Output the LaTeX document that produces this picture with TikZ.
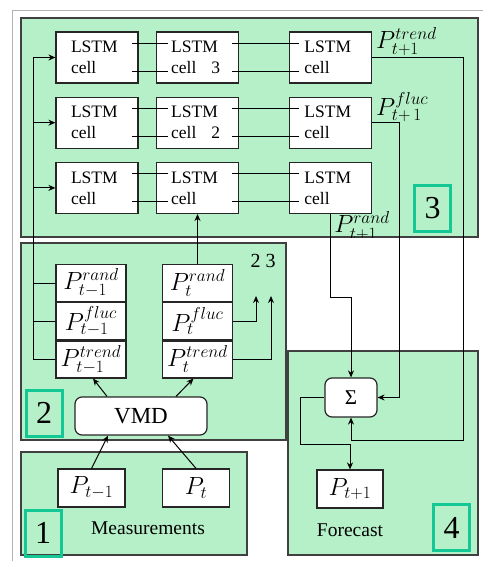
\documentclass[tikz,border=0pt]{standalone}
\usepackage{fontspec}
\setmainfont{Liberation Serif}
\usepackage{xcolor}
\definecolor{PanelGreen}{RGB}{182,240,200}
\definecolor{TagTeal}{RGB}{20,200,150}
\usetikzlibrary{arrows.meta,positioning,calc}

\begin{document}
\begin{tikzpicture}[
    x=1pt,y=-1pt,
    font=\fontsize{17.5}{21}\selectfont,
    panel/.style={draw=black!75,line width=1.2pt,fill=PanelGreen},
    tag/.style={draw=TagTeal,line width=3pt,minimum width=36pt,minimum height=46pt,inner sep=0pt,font=\fontsize{32}{32}\selectfont},
    lstm/.style={draw=black!85,line width=1.2pt,fill=white,minimum width=82pt,minimum height=51pt,inner sep=0pt,text width=52pt,align=left},
    pbox/.style={draw=black!85,line width=1.2pt,fill=white,minimum width=70pt,minimum height=37pt,inner sep=0pt,font=\fontsize{23}{23}\selectfont},
    rbox/.style={draw=black!85,line width=1.2pt,fill=white,rounded corners=7pt,inner sep=0pt},
    arr/.style={-{Stealth[length=7pt,width=6pt]},line width=1pt},
    link/.style={line width=1pt},
    outlbl/.style={inner sep=0pt,font=\fontsize{24}{24}\selectfont},
  ]
    \useasboundingbox (0,0) rectangle (483,561);
    \draw[gray!60,line width=0.8pt] (12,561) -- (12,10) -- (483,10);

    % panels
    \draw[panel] (21,18) rectangle (478,237);
    \begin{scope}
      \clip (21,18) rectangle (478,237);
      \node[outlbl] (oR) at (362,226) {$P^{rand}_{t+1}$};
    \end{scope}
    \draw[panel] (21,243) rectangle (286,440);
    \draw[panel] (21,452) rectangle (247,555);
    \draw[panel] (288,351) rectangle (478,555);

    % LSTM grid
    \node[lstm] (a1) at (97,57.5) {LSTM\\cell};
    \node[lstm,right=17pt of a1] (b1) {LSTM\\cell\hspace{15pt}3};
    \node[lstm,right=50pt of b1] (c1) {LSTM\\cell};
    \node[lstm,below=13pt of a1] (a2) {LSTM\\cell};
    \node[lstm,right=17pt of a2] (b2) {LSTM\\cell\hspace{15pt}2};
    \node[lstm,right=50pt of b2] (c2) {LSTM\\cell};
    \node[lstm,below=13pt of a2] (a3) {LSTM\\cell};
    \node[lstm,right=17pt of a3] (b3) {LSTM\\cell};
    \node[lstm,right=50pt of b3] (c3) {LSTM\\cell};
    \foreach \r in {1,2,3} {
      \draw[link] ([shift={(-7pt,14pt)}]a\r.east) -- ([shift={(12pt,14pt)}]b\r.west);
      \draw[link] ([shift={(-7pt,-14pt)}]a\r.east) -- ([shift={(12pt,-14pt)}]b\r.west);
      \draw[link] ([shift={(-7pt,14pt)}]b\r.east) -- ([shift={(10pt,14pt)}]c\r.west);
      \draw[link] ([shift={(-7pt,-14pt)}]b\r.east) -- ([shift={(10pt,-14pt)}]c\r.west);
    }
    \node[outlbl,anchor=west] (oT) at ([shift={(4pt,-10pt)}]c1.north east) {$P^{trend}_{t+1}$};
    \node[outlbl,anchor=west] (oF) at ([shift={(4pt,-10pt)}]c2.north east) {$P^{fluc}_{t+\,1}$};
    \node[tag] (tag3) at (432.5,208.5) {3};

    % decomposition
    \node[pbox] (pR1) at (91,283) {$P^{rand}_{t-1}$};
    \node[pbox,below=0pt of pR1] (pF1) {$P^{fluc}_{t-1}$};
    \node[pbox,below=0pt of pF1] (pT1) {$P^{trend}_{t-1}$};
    \node[pbox] (pR0) at (197.5,283) {$P^{rand}_{t}$};
    \node[pbox,below=0pt of pR0] (pF0) {$P^{fluc}_{t}$};
    \node[pbox,below=0pt of pF0] (pT0) {$P^{trend}_{t}$};
    \node[font=\fontsize{20}{20}\selectfont] (ids) at (263,261) {2 3};
    \node[rbox,minimum width=132pt,minimum height=38pt,font=\fontsize{23}{23}\selectfont] (vmd) at (141,416) {VMD};
    \node[tag] (tag2) at (44,413) {2};

    \coordinate (bus) at (33,0);
    \coordinate (toRow2) at (256,296);
    \coordinate (toRow3) at (271,296);
    \draw[arr] (pT1.west) -| (bus |- a1.west) -- (a1.west);
    \draw[arr] (pF1.west) -| (bus |- a2.west) -- (a2.west);
    \draw[arr] (pR1.west) -| (bus |- a3.west) -- (a3.west);
    \draw[arr] (pR0.north) -- (pR0.north |- b3.south);
    \draw[arr] (pF0.east) -| (toRow2);
    \draw[arr] (pT0.east) -| (toRow3);
    \draw[arr] ([xshift=-34pt]vmd.north) -- ([xshift=2pt]pT1.south);
    \draw[arr] ([xshift=35pt]vmd.north) -- ([xshift=-4pt]pT0.south);

    % measurements
    \node[pbox,minimum width=67pt,minimum height=38pt] (pPrev) at (91.5,488) {$P_{t-1}$};
    \node[pbox,minimum width=67pt,minimum height=38pt] (pNow) at (196,488) {$P_t$};
    \node[font=\fontsize{19.5}{19.5}\selectfont] (meas) at (148,528) {Measurements};
    \node[tag] (tag1) at (43,533) {1};
    \draw[arr] (pPrev.north) -- ([xshift=-33pt]vmd.south);
    \draw[arr] (pNow.north) -- ([xshift=27pt]vmd.south);

    % forecast
    \node[rbox,minimum width=52pt,minimum height=39pt,font=\fontsize{21}{21}\selectfont] (sum) at (351,397.5) {Σ};
    \node[pbox,minimum width=66pt,minimum height=38pt] (pNext) at (350,489) {$P_{t+1}$};
    \node[font=\fontsize{19.5}{19.5}\selectfont] (fc) at (350,530) {Forecast};
    \node[tag] (tag4) at (451.5,527.5) {4};

    \coordinate (trendTurn) at (463,440);
    \draw[arr] (c1.east) -| (trendTurn) -| (sum.south);
    \draw[arr] (c2.east) -| ([xshift=22pt]sum.east) -- (sum.east);
    \draw[arr] (c3.south) -- ++(0,-83pt) -| (sum.north);
    \draw[arr] (sum.west) -- ++(-24pt,0) -- ++(0,-47pt) -| (pNext.north);
\end{tikzpicture}
\end{document}
